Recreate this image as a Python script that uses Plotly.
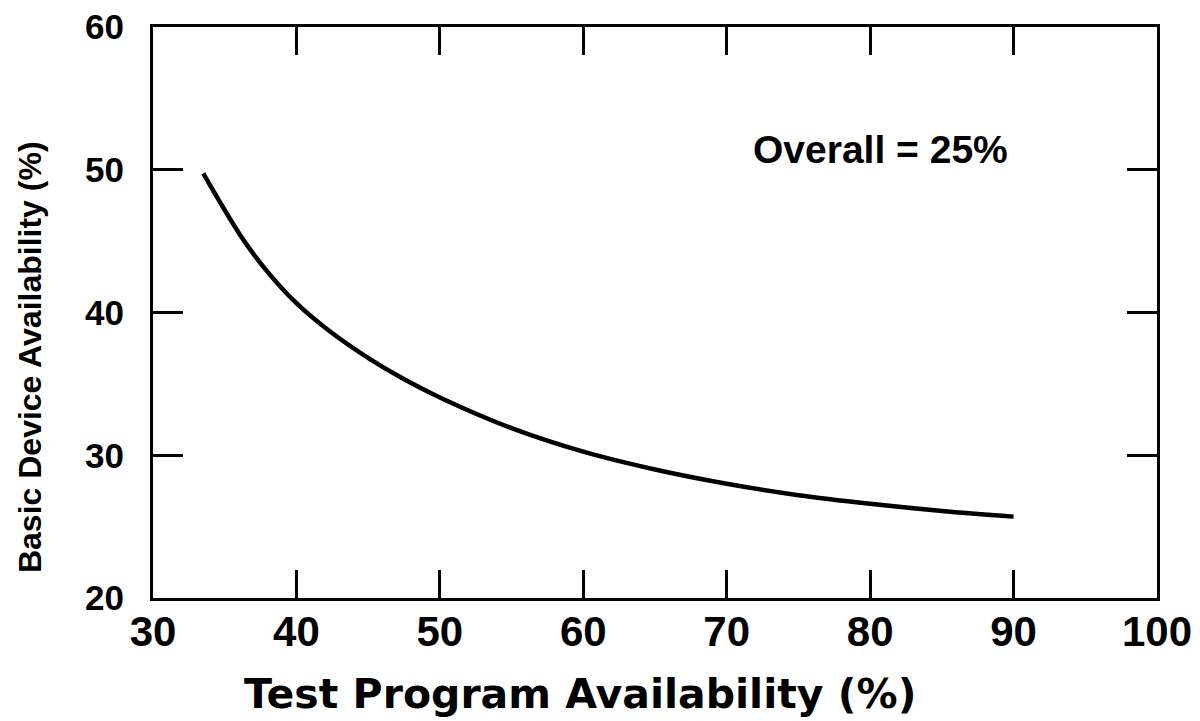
import plotly.graph_objects as go

# Curve
test_program = [33.5, 36.1, 37.7, 40.0, 42.3, 45.1, 47.2, 50.0, 55.0, 60.0, 65.0, 70.0, 75.0, 80.0, 85.0, 90.0]
basic_device = [49.75, 45.4, 43.2, 40.65, 38.7, 36.75, 35.5, 34.05, 31.9, 30.25, 29.0, 28.0, 27.2, 26.6, 26.1, 25.7]

x_ticks = [30, 40, 50, 60, 70, 80, 90, 100]
y_ticks = [20, 30, 40, 50, 60]
annotation_text = "Overall = 25%"
x_title = "Test Program Availability (%)"
y_title = "Basic Device Availability (%)"

fig = go.Figure()
fig.add_trace(go.Scatter(
    x=test_program, y=basic_device, mode="lines",
    line=dict(color="black", width=4.5, shape="spline", smoothing=1.0),
    showlegend=False, hoverinfo="skip",
))

fig.add_annotation(
    x=80.7, y=51.4, text=annotation_text, showarrow=False,
    font=dict(family="Liberation Sans, Arial, sans-serif", size=39, color="black", weight="bold"),
    xanchor="center", yanchor="middle",
)
# axis titles (placed as annotations to match the off-centre positions)
fig.add_annotation(
    xref="paper", yref="paper", x=0.425, y=-0.168, text=x_title, showarrow=False,
    font=dict(family="DejaVu Sans, sans-serif", size=41, color="black", weight="bold"),
    xanchor="center", yanchor="middle",
)
fig.add_annotation(
    xref="paper", yref="paper", x=-0.1225, y=0.422, text=y_title, showarrow=False,
    textangle=-90,
    font=dict(family="Liberation Sans, Arial", size=32, color="black", weight="bold"),
    xanchor="center", yanchor="middle",
)

fig.update_layout(
    width=1200, height=721,
    margin=dict(l=153, r=43, t=27, b=123),
    paper_bgcolor="white", plot_bgcolor="white",
)
fig.update_xaxes(
    range=[30, 100], tickvals=x_ticks, ticktext=[str(v) for v in x_ticks],
    automargin=False,
    showgrid=False, zeroline=False,
    showline=True, linecolor="black", linewidth=3, mirror="ticks",
    ticks="inside", ticklen=28, tickwidth=3, tickcolor="black",
    ticklabelstandoff=-5,
    tickfont=dict(family="Liberation Sans, Arial", size=42, color="black", weight="bold"),
)
fig.update_yaxes(
    range=[20, 60], tickvals=y_ticks, ticktext=[str(v) for v in y_ticks],
    automargin=False,
    showgrid=False, zeroline=False,
    showline=True, linecolor="black", linewidth=3, mirror="ticks",
    ticks="inside", ticklen=30, tickwidth=3, tickcolor="black",
    ticklabelstandoff=19,
    tickfont=dict(family="Liberation Sans, Arial", size=35, color="black", weight="bold"),
)

fig.write_html(
    "out.html",
    config={"displayModeBar": False},
    post_script="document.body.style.margin='0px';document.body.style.overflow='hidden';",
)
